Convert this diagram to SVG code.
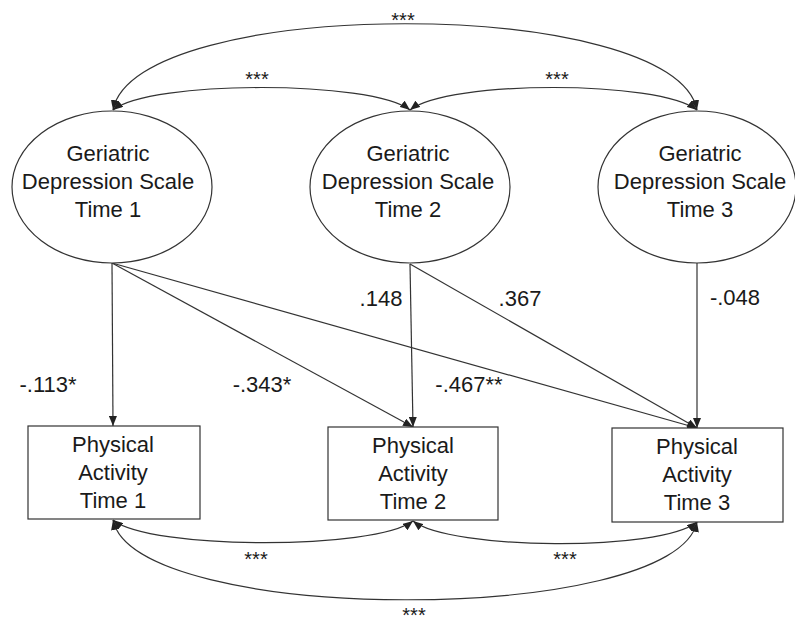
<svg xmlns="http://www.w3.org/2000/svg" width="795" height="620" viewBox="0 0 795 620">
<defs>
<marker id="ah" viewBox="0 0 10 8" refX="10" refY="4" markerWidth="10" markerHeight="8" markerUnits="userSpaceOnUse" orient="auto-start-reverse">
<path d="M0,0 L10,4 L0,8 Z" fill="#222"/>
</marker>
</defs>
<style>
text{font-family:"Liberation Sans",Arial,sans-serif;font-size:22px;fill:#1a1a1a;text-anchor:middle}
.n{fill:#fff;stroke:#333;stroke-width:1.2}
.c{fill:none;stroke:#333;stroke-width:1.2}
.st{font-size:20px}
</style>
<rect width="795" height="620" fill="#fff"/>
<g id="connectors">
<path class="c" d="M113,110 C135,-5 675,-5 697,110" marker-start="url(#ah)" marker-end="url(#ah)"/>
<path class="c" d="M113,110 C150,80 372,80 410,110" marker-start="url(#ah)" marker-end="url(#ah)"/>
<path class="c" d="M410,110 C448,80 659,80 697,110" marker-start="url(#ah)" marker-end="url(#ah)"/>
<path class="c" d="M112,263 L113,426" marker-end="url(#ah)"/>
<path class="c" d="M112,263 L413,427" marker-end="url(#ah)"/>
<path class="c" d="M112,263 L697,428" marker-end="url(#ah)"/>
<path class="c" d="M410,264 L413,427" marker-end="url(#ah)"/>
<path class="c" d="M410,264 L697,428" marker-end="url(#ah)"/>
<path class="c" d="M697,263 L697,428" marker-end="url(#ah)"/>
<path class="c" d="M113,520 C150,550 375,550 413,521" marker-start="url(#ah)" marker-end="url(#ah)"/>
<path class="c" d="M413,521 C450,550 660,552 697,522" marker-start="url(#ah)" marker-end="url(#ah)"/>
<path class="c" d="M113,520 C135,626 675,626 697,522" marker-start="url(#ah)" marker-end="url(#ah)"/>
<text class="st" x="403" y="27">***</text>
<text class="st" x="257" y="86">***</text>
<text class="st" x="557" y="86">***</text>
<text class="st" x="256" y="566">***</text>
<text class="st" x="565" y="566">***</text>
<text class="st" x="414" y="622">***</text>
<text x="48" y="392">-.113*</text>
<text x="262" y="392">-.343*</text>
<text x="469" y="392">-.467**</text>
<text x="381" y="306">.148</text>
<text x="520" y="306">.367</text>
<text x="735" y="305">-.048</text>
</g>
<g id="gds1">
<ellipse class="n" cx="112" cy="187" rx="100" ry="76"/>
<text x="108" y="161">Geriatric</text>
<text x="108" y="189">Depression Scale</text>
<text x="108" y="217">Time 1</text>
</g>
<g id="gds2">
<ellipse class="n" cx="410" cy="187" rx="100" ry="76"/>
<text x="408" y="161">Geriatric</text>
<text x="408" y="189">Depression Scale</text>
<text x="408" y="217">Time 2</text>
</g>
<g id="gds3">
<ellipse class="n" cx="697" cy="187" rx="99" ry="76"/>
<text x="700" y="161">Geriatric</text>
<text x="700" y="189">Depression Scale</text>
<text x="700" y="217">Time 3</text>
</g>
<g id="pa1">
<rect class="n" x="28" y="426" width="172" height="93"/>
<text x="113" y="452">Physical</text>
<text x="113" y="480">Activity</text>
<text x="113" y="508">Time 1</text>
</g>
<g id="pa2">
<rect class="n" x="328" y="427" width="170" height="93"/>
<text x="413" y="453">Physical</text>
<text x="413" y="481">Activity</text>
<text x="413" y="509">Time 2</text>
</g>
<g id="pa3">
<rect class="n" x="612" y="428" width="171" height="94"/>
<text x="697" y="454">Physical</text>
<text x="697" y="482">Activity</text>
<text x="697" y="510">Time 3</text>
</g>
</svg>
